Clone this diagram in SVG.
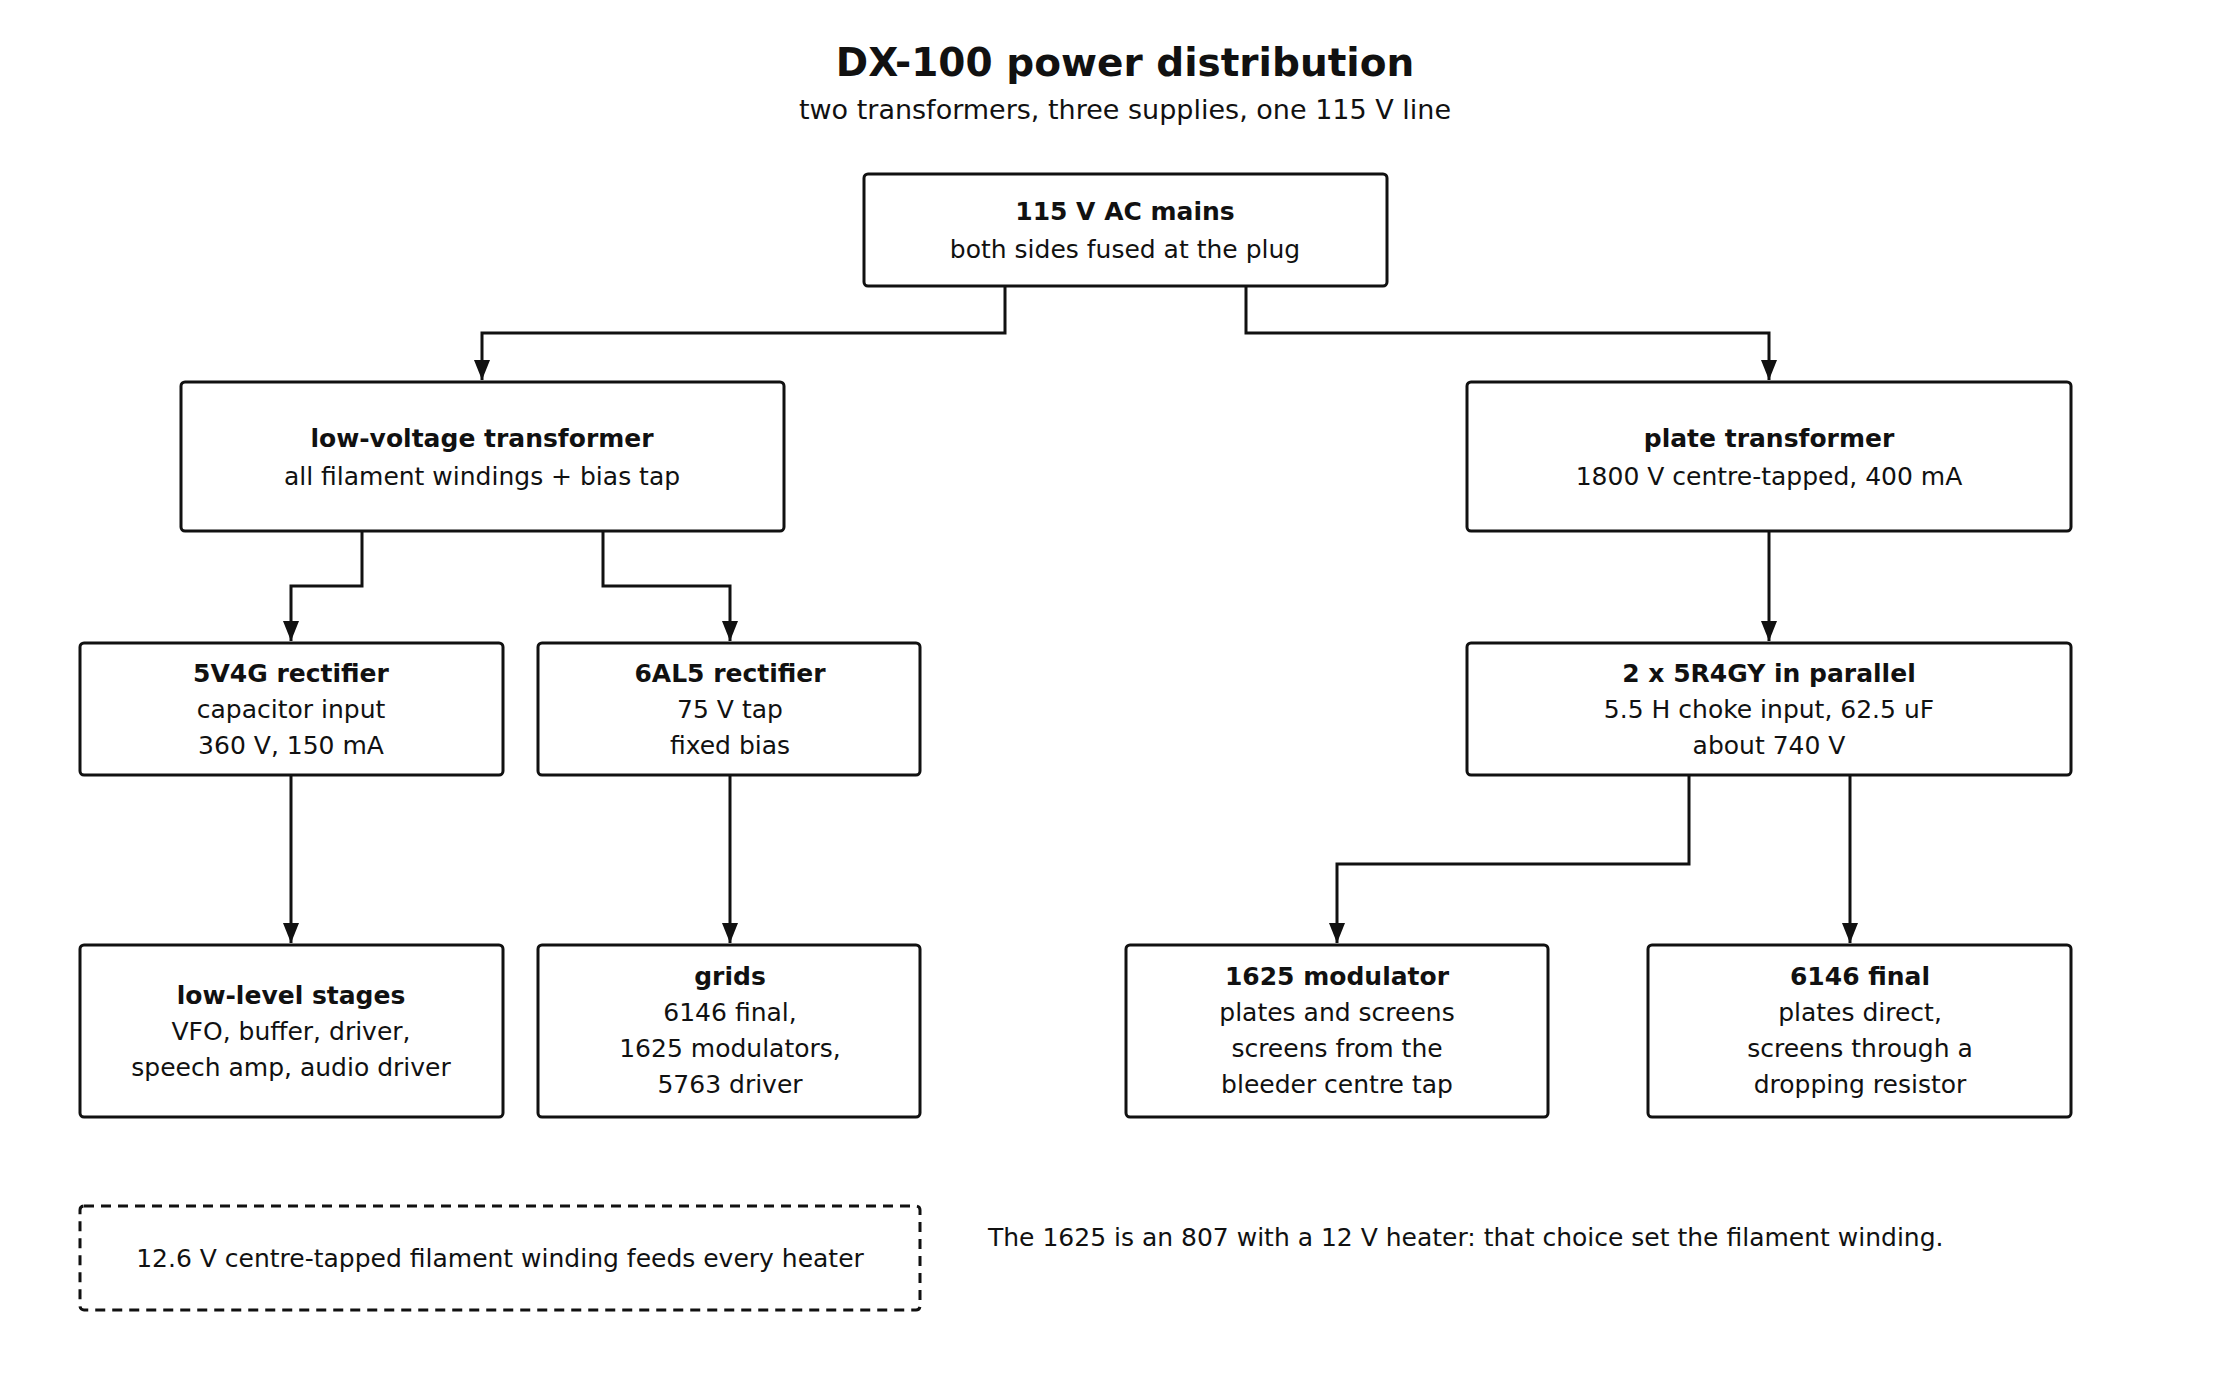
<svg xmlns="http://www.w3.org/2000/svg" width="2240" height="1400" viewBox="0 0 2240 1400">
<style>
text{font-family:"DejaVu Sans",sans-serif;fill:#111;text-anchor:middle;font-size:25px}
.t{font-size:39px;font-weight:bold}
.s{font-size:27px}
.b{font-weight:bold}
.box{fill:#fff;stroke:#111;stroke-width:3}
.dash{fill:none;stroke:#111;stroke-width:3;stroke-dasharray:10 7}
.c{fill:none;stroke:#111;stroke-width:3}
</style>
<defs><marker id="a" markerWidth="10" markerHeight="10" refX="9" refY="5" orient="auto" markerUnits="userSpaceOnUse" viewBox="0 0 10 10"><path d="M0,0 L10,5 L0,10 z" fill="#111" transform="scale(1)"/></marker>
<marker id="ah" viewBox="0 0 20 20" refX="20" refY="10" markerWidth="20" markerHeight="20" orient="auto" markerUnits="userSpaceOnUse"><path d="M0,2 L20,10 L0,18 z" fill="#111"/></marker></defs>
<rect width="2240" height="1400" fill="#fff"/>
<text class="t" x="1125" y="76">DX-100 power distribution</text>
<text class="s" x="1125" y="119">two transformers, three supplies, one 115 V line</text>
<g id="connectors">
<path class="c" marker-end="url(#ah)" d="M1005,286 V333 H482 V380"/>
<path class="c" marker-end="url(#ah)" d="M1246,286 V333 H1769 V380"/>
<path class="c" marker-end="url(#ah)" d="M362,531 V586 H291 V641"/>
<path class="c" marker-end="url(#ah)" d="M603,531 V586 H730 V641"/>
<path class="c" marker-end="url(#ah)" d="M1769,531 V641"/>
<path class="c" marker-end="url(#ah)" d="M291,775 V943"/>
<path class="c" marker-end="url(#ah)" d="M730,775 V943"/>
<path class="c" marker-end="url(#ah)" d="M1689,775 V864 H1337 V943"/>
<path class="c" marker-end="url(#ah)" d="M1850,775 V943"/>
</g>
<g id="mains"><rect class="box" x="864" y="174" width="523" height="112" rx="4"/><text class="b" x="1125" y="220">115 V AC mains</text><text x="1125" y="258">both sides fused at the plug</text></g>
<g id="lvt"><rect class="box" x="181" y="382" width="603" height="149" rx="4"/><text class="b" x="482" y="447">low-voltage transformer</text><text x="482" y="485">all filament windings + bias tap</text></g>
<g id="pt"><rect class="box" x="1467" y="382" width="604" height="149" rx="4"/><text class="b" x="1769" y="447">plate transformer</text><text x="1769" y="485">1800 V centre-tapped, 400 mA</text></g>
<g id="r5v4g"><rect class="box" x="80" y="643" width="423" height="132" rx="4"/><text class="b" x="291" y="682">5V4G rectifier</text><text x="291" y="718">capacitor input</text><text x="291" y="754">360 V, 150 mA</text></g>
<g id="r6al5"><rect class="box" x="538" y="643" width="382" height="132" rx="4"/><text class="b" x="730" y="682">6AL5 rectifier</text><text x="730" y="718">75 V tap</text><text x="730" y="754">fixed bias</text></g>
<g id="r5r4"><rect class="box" x="1467" y="643" width="604" height="132" rx="4"/><text class="b" x="1769" y="682">2 x 5R4GY in parallel</text><text x="1769" y="718">5.5 H choke input, 62.5 uF</text><text x="1769" y="754">about 740 V</text></g>
<g id="lowlevel"><rect class="box" x="80" y="945" width="423" height="172" rx="4"/><text class="b" x="291" y="1004">low-level stages</text><text x="291" y="1040">VFO, buffer, driver,</text><text x="291" y="1076">speech amp, audio driver</text></g>
<g id="grids"><rect class="box" x="538" y="945" width="382" height="172" rx="4"/><text class="b" x="730" y="985">grids</text><text x="730" y="1021">6146 final,</text><text x="730" y="1057">1625 modulators,</text><text x="730" y="1093">5763 driver</text></g>
<g id="mod"><rect class="box" x="1126" y="945" width="422" height="172" rx="4"/><text class="b" x="1337" y="985">1625 modulator</text><text x="1337" y="1021">plates and screens</text><text x="1337" y="1057">screens from the</text><text x="1337" y="1093">bleeder centre tap</text></g>
<g id="final"><rect class="box" x="1648" y="945" width="423" height="172" rx="4"/><text class="b" x="1860" y="985">6146 final</text><text x="1860" y="1021">plates direct,</text><text x="1860" y="1057">screens through a</text><text x="1860" y="1093">dropping resistor</text></g>
<g id="filament"><rect class="dash" x="80" y="1206" width="840" height="104" rx="4"/><text x="500" y="1267">12.6 V centre-tapped filament winding feeds every heater</text></g>
<text x="988" y="1246" style="text-anchor:start">The 1625 is an 807 with a 12 V heater: that choice set the filament winding.</text>
</svg>
